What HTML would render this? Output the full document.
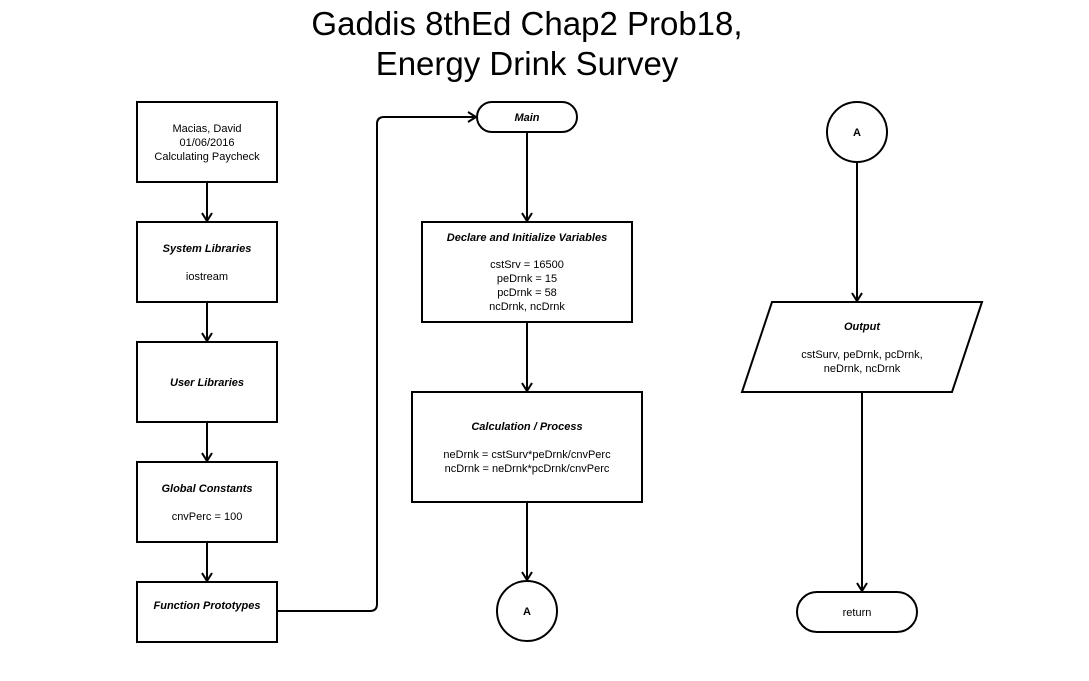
<!DOCTYPE html>
<html><head><style>body{margin:0;background:#fff}svg{display:block}text{font-family:"Liberation Sans",Arial,sans-serif;fill:#000}</style></head><body>
<svg width="1089" height="681" xmlns="http://www.w3.org/2000/svg">
<defs><marker id="a" markerWidth="12" markerHeight="12" refX="10" refY="6" orient="auto" markerUnits="userSpaceOnUse"><path d="M2,1 L10,6 L2,11" fill="none" stroke="#000" stroke-width="2"/></marker></defs>
<text x="527" y="35" font-size="33" text-anchor="middle">Gaddis 8thEd Chap2 Prob18,</text>
<text x="527" y="75" font-size="33" text-anchor="middle">Energy Drink Survey</text>
<g fill="#fff" stroke="#000" stroke-width="2">
<rect x="137" y="102" width="140" height="80"/>
<rect x="137" y="222" width="140" height="80"/>
<rect x="137" y="342" width="140" height="80"/>
<rect x="137" y="462" width="140" height="80"/>
<rect x="137" y="582" width="140" height="60"/>
<rect x="477" y="102" width="100" height="30" rx="15"/>
<rect x="422" y="222" width="210" height="100"/>
<rect x="412" y="392" width="230" height="110"/>
<circle cx="527" cy="611" r="30"/>
<circle cx="857" cy="132" r="30"/>
<polygon points="772,302 982,302 952,392 742,392"/>
<rect x="797" y="592" width="120" height="40" rx="20"/>
</g>
<g fill="none" stroke="#000" stroke-width="2" marker-end="url(#a)">
<line x1="207" y1="182" x2="207" y2="221"/>
<line x1="207" y1="302" x2="207" y2="341"/>
<line x1="207" y1="422" x2="207" y2="461"/>
<line x1="207" y1="542" x2="207" y2="581"/>
<path d="M277,611 H370 Q377,611 377,604 V124 Q377,117 384,117 H476"/>
<line x1="527" y1="132" x2="527" y2="221"/>
<line x1="527" y1="322" x2="527" y2="391"/>
<line x1="527" y1="502" x2="527" y2="580"/>
<line x1="857" y1="162" x2="857" y2="301"/>
<line x1="862" y1="392" x2="862" y2="591"/>
</g>
<g font-size="11" text-anchor="middle">
<text x="207" y="132">Macias, David</text>
<text x="207" y="146">01/06/2016</text>
<text x="207" y="160">Calculating Paycheck</text>
<text x="207" y="252" font-weight="bold" font-style="italic">System Libraries</text>
<text x="207" y="280">iostream</text>
<text x="207" y="386" font-weight="bold" font-style="italic">User Libraries</text>
<text x="207" y="492" font-weight="bold" font-style="italic">Global Constants</text>
<text x="207" y="520">cnvPerc = 100</text>
<text x="207" y="609" font-weight="bold" font-style="italic">Function Prototypes</text>
<text x="527" y="121" font-weight="bold" font-style="italic">Main</text>
<text x="527" y="241" font-weight="bold" font-style="italic">Declare and Initialize Variables</text>
<text x="527" y="268">cstSrv = 16500</text>
<text x="527" y="282">peDrnk = 15</text>
<text x="527" y="296">pcDrnk = 58</text>
<text x="527" y="310">ncDrnk, ncDrnk</text>
<text x="527" y="430" font-weight="bold" font-style="italic">Calculation / Process</text>
<text x="527" y="458">neDrnk = cstSurv*peDrnk/cnvPerc</text>
<text x="527" y="472">ncDrnk = neDrnk*pcDrnk/cnvPerc</text>
<text x="527" y="615" font-weight="bold">A</text>
<text x="857" y="136" font-weight="bold">A</text>
<text x="862" y="330" font-weight="bold" font-style="italic">Output</text>
<text x="862" y="358">cstSurv, peDrnk, pcDrnk,</text>
<text x="862" y="372">neDrnk, ncDrnk</text>
<text x="857" y="616">return</text>
</g>
</svg>
</body></html>
